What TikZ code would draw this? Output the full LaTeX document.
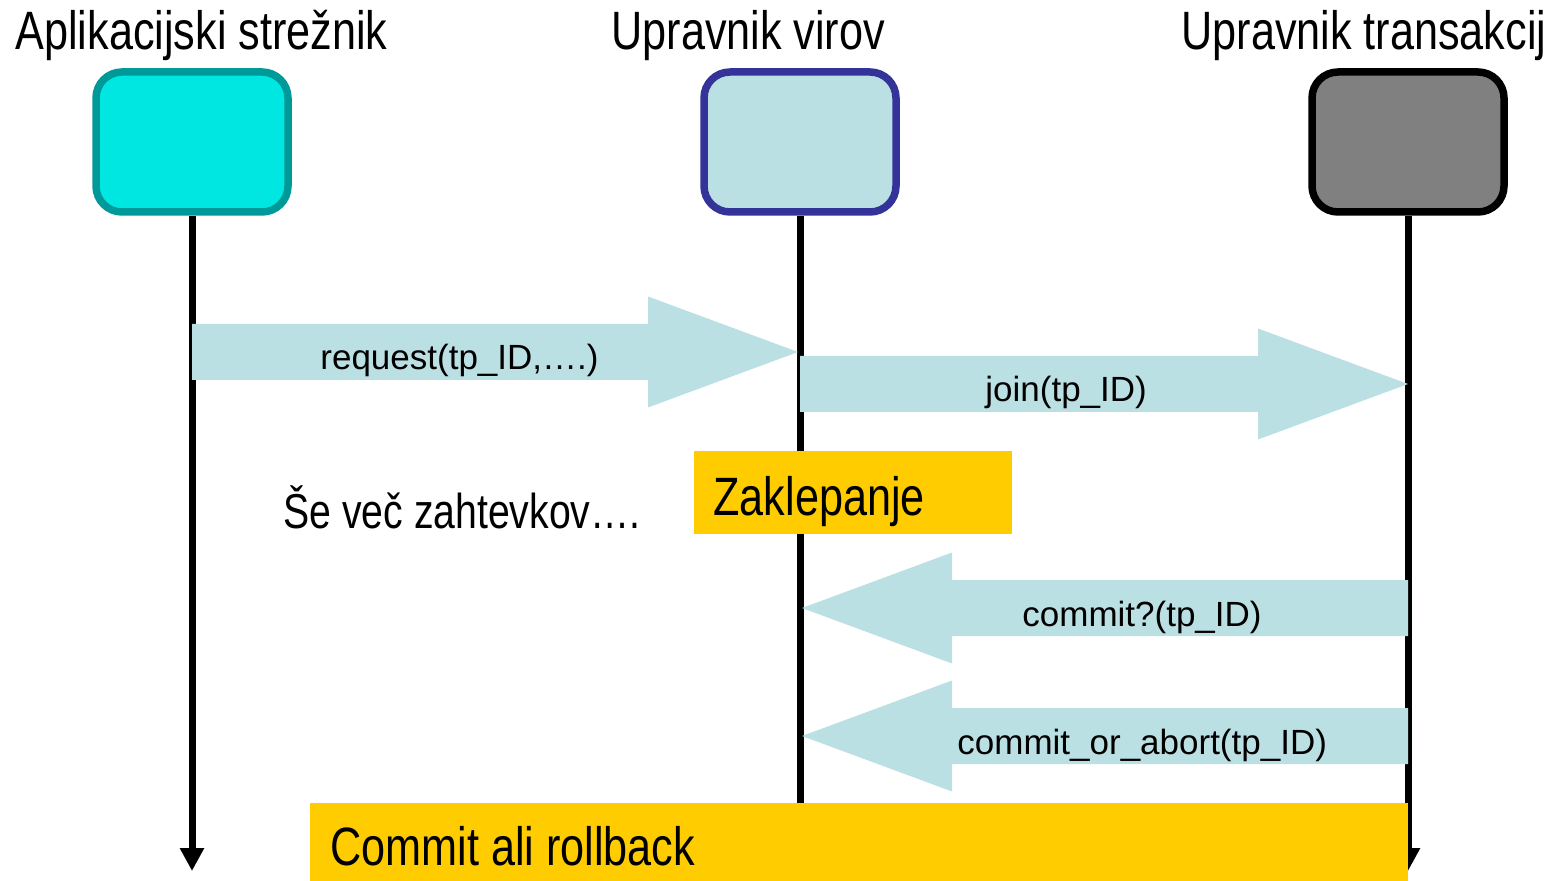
\documentclass[tikz,border=0pt]{standalone}
\usepackage{fontspec}
\setmainfont{Liberation Sans}
\newfontfamily\narrowfont[FakeStretch=0.8]{Liberation Sans}
\usetikzlibrary{arrows.meta,calc}
\definecolor{srvcyan}{HTML}{00E6E0}
\definecolor{srvteal}{HTML}{009999}
\definecolor{msgblue}{HTML}{BBE0E3}
\definecolor{rmnavy}{HTML}{333399}
\definecolor{tmgray}{HTML}{808080}
\definecolor{noteyellow}{HTML}{FFCC00}
\tikzset{
  party/.style={draw, rounded corners=13pt, line width=3.75pt, minimum width=96pt, minimum height=70pt, inner sep=0pt},
  lifeline/.style={line width=3.5pt},
  lifearrow/.style={lifeline, -{Triangle[width=11.5pt,length=11.5pt]}},
  msg/.style={fill=msgblue},
  notebox/.style={fill=noteyellow, inner sep=0pt},
  title/.style={anchor=base west, inner sep=0pt, font=\narrowfont\fontsize{27pt}{30pt}\selectfont},
  msgtext/.style={anchor=base west, inner sep=0pt, font=\fontsize{17.5pt}{20pt}\selectfont},
}
% #1 tail, #2 tip, #3 direction (1 right, -1 left)
\newcommand{\blockmsg}[3]{%
  \fill[msg] ($(#1)+(0,-28)$) -- ($(#2)+(-150*#3,-28)$) -- ($(#2)+(-150*#3,-55.5)$) -- (#2)
    -- ($(#2)+(-150*#3,55.5)$) -- ($(#2)+(-150*#3,28)$) -- ($(#1)+(0,28)$) -- cycle;}

\begin{document}
\begin{tikzpicture}[line cap=butt,line join=miter,x=0.5pt,y=-0.5pt]
\useasboundingbox (0,0) rectangle (1561,881);

\node[title] (srvtitle) at (15,50) {Aplikacijski strežnik};
\node[title] (rmtitle) at (611,50) {Upravnik virov};
\node[title] (tmtitle) at (1181,50) {Upravnik transakcij};

\node[party, draw=srvteal, fill=srvcyan] (srv) at (192,142) {};
\node[party, draw=rmnavy, fill=msgblue] (rm) at (800,142) {};
\node[party, draw=black, fill=tmgray] (tm) at (1408,142) {};

\coordinate (srvend) at (192,871);
\coordinate (rmend) at (800,820);
\coordinate (tmend) at (1408,871);
\draw[lifearrow] (srv) -- (srvend);
\draw[lifeline] (rm) -- (rmend);
\draw[lifearrow] (tm) -- (tmend);

\coordinate (reqtail) at (srv |- 0,352);
\coordinate (reqtip) at (798,352);
\coordinate (jointail) at (rm |- 0,384);
\coordinate (jointip) at (tm |- 0,384);
\coordinate (asktail) at (tm |- 0,608);
\coordinate (asktip) at (802,608);
\coordinate (cortail) at (tm |- 0,736);
\coordinate (cortip) at (802,736);

\blockmsg{reqtail}{reqtip}{1}
\blockmsg{jointail}{jointip}{1}
\blockmsg{asktail}{asktip}{-1}
\blockmsg{cortail}{cortip}{-1}

\node[msgtext] (reqlabel) at (320,370) {request(tp\_ID,….)};
\node[msgtext] (joinlabel) at (985,402) {join(tp\_ID)};
\node[msgtext] (asklabel) at (1022,626) {commit?(tp\_ID)};
\node[msgtext] (corlabel) at (957,754) {commit\_or\_abort(tp\_ID)};

\node[title, font=\narrowfont\fontsize{24.5pt}{28pt}\selectfont] (more) at (283,528) {Še več zahtevkov….};

\node[notebox, minimum width=159pt, minimum height=41.5pt, anchor=north west] (lock) at (694,451) {};
\node[title] (locklabel) at (713,515) {Zaklepanje};

\node[notebox, minimum width=549pt, minimum height=39pt, anchor=north west] (commit) at (310,803) {};
\node[title] (commitlabel) at (330,865) {Commit ali rollback};
\end{tikzpicture}
\end{document}
